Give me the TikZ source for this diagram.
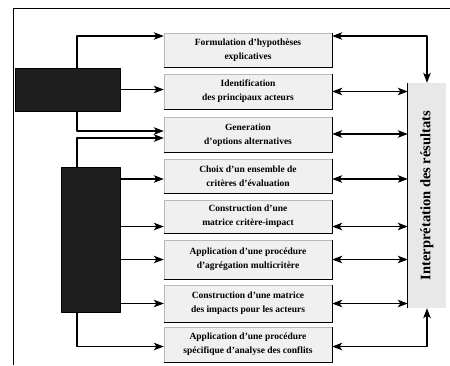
\documentclass[tikz,border=0pt]{standalone}
\usepackage{fontspec}
\setmainfont{Liberation Serif}
\usetikzlibrary{arrows.meta}

\begin{document}
\begin{tikzpicture}[x=1pt,y=-1pt,line join=round,>={Stealth[length=10pt,width=7.5pt,inset=2.5pt]},font=\fontsize{9.5}{14}\selectfont\bfseries]
	%%%%%%%%%STYLES
	\tikzset{etape/.style={draw=gray!55,fill=gray!12,minimum width=168pt,align=center,inner sep=1pt},
		acteur/.style={draw=black,fill=black!88},
		fleche/.style={line width=1.2pt}}
	\useasboundingbox(0,0)rectangle(450,365);
	%cadre
	\draw[line width=0.8pt](13,365)--(13,8)--(450,8);
	%%%%%%%%%%%%%%%%%%%Etapes
	\foreach \n/\y/\h/\t in {1/50/34/{Formulation d'hypothèses\\explicatives},
		2/91.5/35/{Identification\\des principaux acteurs},
		3/135/35/{Generation\\d'options alternatives},
		4/176/34/{Choix d'un ensemble de\\critères d'évaluation},
		5/216.5/33/{Construction d'une\\matrice critère-impact},
		6/259.5/39/{Application d'une procédure\\d'agrégation multicritère},
		7/303.5/37/{Construction d'une matrice\\des impacts pour les acteurs},
		8/344.5/35/{Application d'une procédure\\spécifique d'analyse des conflits}}
	\node[etape,minimum height=\h pt](b\n)at(248,\y){\t};
	\foreach \i in {1,...,8}
	\draw[line width=0.8pt](b\i.south west)--(b\i.south east)--(b\i.north east);
	%%%%%%%%%%%%%%%%%%%Acteurs
	\node[acteur,minimum width=105pt,minimum height=43pt](src1)at(67.5,89.5){};
	\node[acteur,minimum width=59pt,minimum height=145pt](src2)at(90.5,239.5){};
	%Interpretation
	\node[fill=gray!18,rotate=90,minimum width=225pt,minimum height=38pt,font=\fontsize{14.5}{16}\selectfont\bfseries](res)at(427,195.5){Interprétation des résultats};
	\draw[line width=0.8pt](res.north west)--(res.north east);
	%%%%%%%%%%%%%%%%%%%Fleches gauche
	\begin{scope}[fleche,->]
		\draw([xshift=9.5pt]src1.north)|-([yshift=14pt]b1.west);
		\draw(src1.east)--(src1.east-|b2.west);
		\draw([xshift=9.5pt]src1.south)|-([yshift=4pt]b3.west);
		\draw([xshift=-13.5pt]src2.north)|-([yshift=-3pt]b3.west);
		\foreach \i/\d in {4/-3,5/-10,6/0,7/0}
		\draw([yshift=\d pt]b\i.west-|src2.east)--([yshift=\d pt]b\i.west);
		\draw([xshift=-13.5pt]src2.south)|-([yshift=-2pt]b8.west);
	\end{scope}
	%%%%%%%%%%%%%%%%%%%Fleches droite
	\begin{scope}[fleche,<->]
		\draw([yshift=14pt]b1.east)-|(res.east);
		\foreach \i/\d in {2/0,3/1,4/-3,5/-10,6/0,7/0}
		\draw([yshift=\d pt]b\i.east)--([yshift=\d pt]b\i.east-|res.north);
		\draw([yshift=-2pt]b8.east)-|(res.west);
	\end{scope}
\end{tikzpicture}
\end{document}
